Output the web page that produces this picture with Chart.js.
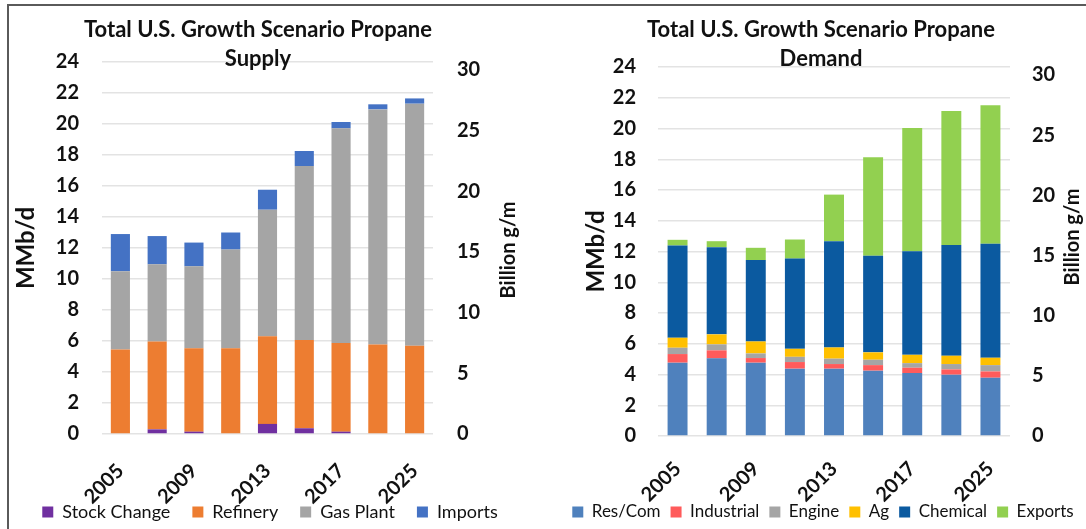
<!DOCTYPE html>
<html>
<head>
<meta charset="utf-8">
<script src="https://cdn.jsdelivr.net/npm/chart.js@4.4.0/dist/chart.umd.min.js"></script>
<style>
    body { margin: 0; width: 1086px; height: 529px; background: #fff; overflow: hidden; position: relative; }
    #frameTop { position: absolute; left: 7px; top: 4px; width: 1079px; height: 2px; background: #5a5a5a; }
    #frameLeft { position: absolute; left: 7px; top: 4px; width: 2px; height: 525px; background: #5a5a5a; }
    .box { position: absolute; top: 7px; height: 540px; }
    #supplyBox { left: 10px; width: 520px; }
    #demandBox { left: 560px; width: 526px; }
</style>
</head>
<body>
<div id="frameTop"></div>
<div id="frameLeft"></div>
<div class="box" id="supplyBox"><canvas id="supplyChart"></canvas></div>
<div class="box" id="demandBox"><canvas id="demandChart"></canvas></div>
<script>
// Categories (only every other one is labelled on the axis)
const years = ['2005', '2007', '2009', '2011', '2013', '2015', '2017', '2020', '2025'];

// Supply, MMb/d
const stockChange = [0, 0.3, 0.15, 0, 0.65, 0.37, 0.15, 0, 0];
const refinery = [5.45, 5.66, 5.38, 5.53, 5.65, 5.69, 5.72, 5.78, 5.70];
const gasPlant = [5.05, 4.99, 5.29, 6.37, 8.17, 11.23, 13.85, 15.16, 15.61];
const imports = [2.4, 1.82, 1.53, 1.1, 1.29, 0.97, 0.41, 0.33, 0.34];

// Demand, MMb/d
const resCom = [4.77, 5.05, 4.77, 4.38, 4.38, 4.25, 4.09, 3.99, 3.79];
const industrial = [0.56, 0.52, 0.30, 0.43, 0.30, 0.36, 0.35, 0.34, 0.41];
const engine = [0.41, 0.39, 0.30, 0.34, 0.35, 0.35, 0.30, 0.35, 0.41];
const ag = [0.65, 0.65, 0.78, 0.52, 0.73, 0.48, 0.54, 0.54, 0.48];
const chemical = [6.0, 5.67, 5.29, 5.87, 6.91, 6.28, 6.74, 7.21, 7.41];
const exportsData = [0.37, 0.39, 0.80, 1.24, 3.03, 6.41, 8.01, 8.71, 9.01];

// Axis ranges
const mmbdMax = 24;
const mmbdStep = 2;
const gallonsMax = 24 * 1.2775; // 1 MMb/d ~ 1.2775 billion gal per month
const gallonsStep = 5;

const FONT = "Lato, 'DejaVu Sans', sans-serif";
const TEXT = '#111';

// Draws the two-line chart title and the right axis title (reads bottom to top)
const extraText = {
    id: 'extraText',
    afterLayout(chart) {
        // let the rotated year labels hang over the legend box instead of being clipped
        chart.scales.x.bottom = chart.height;
    },
    afterDraw(chart, args, opts) {
        const ctx = chart.ctx;
        ctx.save();
        ctx.fillStyle = TEXT;
        ctx.textAlign = 'center';
        ctx.textBaseline = 'middle';
        ctx.font = 'bold 22px ' + FONT;
        opts.title.forEach((line, i) => {
            ctx.fillText(line, opts.titleX, opts.titleY + i * 29);
        });
        ctx.font = 'bold 20px ' + FONT;
        ctx.translate(opts.axisX, opts.axisY);
        ctx.rotate(-Math.PI / 2);
        ctx.fillText(opts.axisText, 0, 0);
        ctx.restore();
    }
};

function makeDatasets(names, arrays, colors, barPct) {
    return names.map((name, i) => ({
        label: name,
        data: arrays[i],
        backgroundColor: colors[i],
        borderWidth: 0,
        barPercentage: barPct,
        categoryPercentage: 1,
        yAxisID: 'y'
    }));
}

function buildChart(canvasId, datasets, geo) {
    const ctx = document.getElementById(canvasId).getContext('2d');
    return new Chart(ctx, {
        type: 'bar',
        data: { labels: years, datasets: datasets },
        options: {
            responsive: true,
            maintainAspectRatio: false,
            animation: false,
            layout: { padding: { top: geo.top, bottom: geo.bottom, left: 0, right: 0 } },
            plugins: {
                legend: {
                    position: 'bottom',
                    labels: {
                        color: TEXT,
                        boxWidth: 11,
                        boxHeight: 11,
                        padding: geo.legendGap,
                        font: { family: FONT, size: geo.legendSize }
                    }
                },
                tooltip: { enabled: false },
                extraText: geo.text
            },
            scales: {
                x: {
                    stacked: true,
                    grid: { display: false },
                    border: { display: false },
                    ticks: {
                        color: TEXT,
                        autoSkip: false,
                        minRotation: 45,
                        maxRotation: 45,
                        padding: geo.xPad,
                        font: { family: FONT, size: 20, weight: 'bold' },
                        callback: function(value, index) {
                            return index % 2 === 0 ? years[index] : '';
                        }
                    },
                    afterFit: function(scale) { scale.height = geo.xHeight; }
                },
                y: {
                    stacked: true,
                    position: 'left',
                    min: 0,
                    max: mmbdMax,
                    grid: { color: '#e3e3e3', lineWidth: 1.5, drawTicks: false },
                    border: { display: false },
                    ticks: {
                        stepSize: mmbdStep,
                        color: TEXT,
                        padding: geo.yPad,
                        font: { family: FONT, size: 20, weight: 'bold' }
                    },
                    title: {
                        display: true,
                        text: 'MMb/d',
                        color: TEXT,
                        padding: { top: geo.yTitlePad, bottom: 0 },
                        font: { family: FONT, size: 24, weight: 'bold' }
                    },
                    afterFit: function(scale) { scale.width = geo.yWidth; }
                },
                y2: {
                    position: 'right',
                    min: 0,
                    max: gallonsMax,
                    grid: { display: false, drawTicks: false },
                    border: { display: false },
                    ticks: {
                        stepSize: gallonsStep,
                        includeBounds: false,
                        color: TEXT,
                        padding: geo.y2Pad,
                        font: { family: FONT, size: 20, weight: 'bold' }
                    },
                    afterFit: function(scale) { scale.width = geo.y2Width; }
                }
            }
        },
        plugins: [extraText]
    });
}

buildChart('supplyChart',
    makeDatasets(
        ['Stock Change', 'Refinery', 'Gas Plant', 'Imports'],
        [stockChange, refinery, gasPlant, imports],
        ['#7030a0', '#ed7d31', '#a5a5a5', '#4472c4'],
        0.52
    ),
    {
        top: 55, bottom: 16, legendGap: 22, legendSize: 18, xHeight: 47, xPad: 17,
        yWidth: 92, y2Width: 97, yPad: 23, y2Pad: 24, yTitlePad: 2,
        text: {
            title: ['Total U.S. Growth Scenario Propane', 'Supply'],
            titleX: 248, titleY: 23,
            axisText: 'Billion g/m', axisX: 499, axisY: 243
        }
    }
);

buildChart('demandChart',
    makeDatasets(
        ['Res/Com', 'Industrial', 'Engine', 'Ag', 'Chemical', 'Exports'],
        [resCom, industrial, engine, ag, chemical, exportsData],
        ['#4f81bd', '#ff5b5b', '#a5a5a5', '#ffc000', '#0b5aa0', '#92d050'],
        0.51
    ),
    {
        top: 60, bottom: 16.5, legendGap: 10, legendSize: 17, xHeight: 57.5, xPad: 13,
        yWidth: 98, y2Width: 76, yPad: 22, y2Pad: 22, yTitlePad: 22,
        text: {
            title: ['Total U.S. Growth Scenario Propane', 'Demand'],
            titleX: 261, titleY: 23,
            axisText: 'Billion g/m', axisX: 513, axisY: 230
        }
    }
);
</script>
</body>
</html>
